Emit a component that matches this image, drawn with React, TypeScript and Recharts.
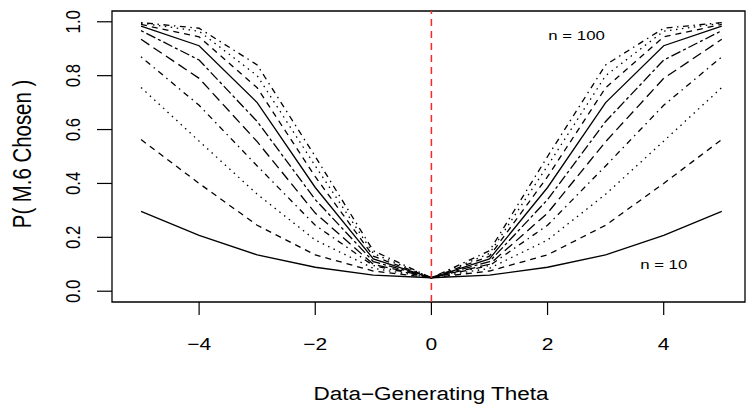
import { LineChart, Line, XAxis, YAxis, ReferenceLine, ReferenceArea, ReferenceDot } from "recharts";

// theta values on the x axis
const thetas = [-5, -4, -3, -2, -1, 0, 1, 2, 3, 4, 5];

// P(M.6 chosen) for each sample size
const n10 = [0.296, 0.207, 0.135, 0.089, 0.06, 0.05, 0.06, 0.089, 0.135, 0.207, 0.296];
const n20 = [0.563, 0.4, 0.245, 0.135, 0.075, 0.05, 0.075, 0.135, 0.245, 0.4, 0.563];
const n30 = [0.756, 0.557, 0.36, 0.19, 0.085, 0.05, 0.085, 0.19, 0.36, 0.557, 0.756];
const n40 = [0.87, 0.69, 0.465, 0.245, 0.095, 0.05, 0.095, 0.245, 0.465, 0.69, 0.87];
const n50 = [0.935, 0.79, 0.555, 0.29, 0.1, 0.05, 0.1, 0.29, 0.555, 0.79, 0.935];
const n60 = [0.967, 0.858, 0.63, 0.34, 0.11, 0.05, 0.11, 0.34, 0.63, 0.858, 0.967];
const n70 = [0.984, 0.911, 0.7, 0.385, 0.12, 0.05, 0.12, 0.385, 0.7, 0.911, 0.984];
const n80 = [0.99, 0.944, 0.755, 0.425, 0.13, 0.05, 0.13, 0.425, 0.755, 0.944, 0.99];
const n90 = [0.995, 0.965, 0.8, 0.465, 0.14, 0.05, 0.14, 0.465, 0.8, 0.965, 0.995];
const n100 = [0.997, 0.976, 0.84, 0.5, 0.15, 0.05, 0.15, 0.5, 0.84, 0.976, 0.997];

const series = [
  { key: "n10", values: n10 },
  { key: "n20", values: n20 },
  { key: "n30", values: n30 },
  { key: "n40", values: n40 },
  { key: "n50", values: n50 },
  { key: "n60", values: n60 },
  { key: "n70", values: n70 },
  { key: "n80", values: n80 },
  { key: "n90", values: n90 },
  { key: "n100", values: n100 },
];

const xTicks = [-4, -2, 0, 2, 4];
const yTicks = [0, 0.2, 0.4, 0.6, 0.8, 1.0];

// R lty 1..6 cycle
const dashes = [undefined, "6 5", "1.5 4.5", "1.5 4.5 6 4.5", "10 5", "3 3 10 3"];

const data = thetas.map((t, i) => {
  const row: Record<string, number> = { theta: t };
  series.forEach((s) => (row[s.key] = s.values[i]));
  return row;
});

const FONT = "'Liberation Sans', Arial, Helvetica, sans-serif";
const SY = 0.8; // the reference is squashed vertically

function HText({ x, y, size, children }: any) {
  return (
    <g transform={`translate(${x},${y}) scale(1,${SY})`}>
      <text x={0} y={0} textAnchor="middle" dominantBaseline="central" fontSize={size} fontFamily={FONT} fill="#000">
        {children}
      </text>
    </g>
  );
}

function VText({ x, y, size, children }: any) {
  return (
    <g transform={`translate(${x},${y}) rotate(-90) scale(${SY},1)`}>
      <text x={0} y={0} textAnchor="middle" dominantBaseline="central" fontSize={size} fontFamily={FONT} fill="#000">
        {children}
      </text>
    </g>
  );
}

const renderXTick = (props: any) => {
  const v = props.payload.value;
  const label = v < 0 ? "\u2212" + Math.abs(v) : String(v);
  return (
    <HText key={"x" + v} x={props.x} y={props.y + 29} size={21}>
      {label}
    </HText>
  );
};

const renderYTick = (props: any) => {
  const v = props.payload.value;
  return (
    <VText key={"y" + v} x={props.x - 24} y={props.y} size={21}>
      {Number(v).toFixed(1)}
    </VText>
  );
};

export default function App() {
  return (
    <div style={{ position: "absolute", left: 0, top: 0, background: "#fff" }}>
      <LineChart width={750} height={408} data={data} margin={{ top: 11, right: 5, left: 0, bottom: 0 }}>
        <XAxis
          dataKey="theta"
          type="number"
          domain={[-5.5, 5.4]}
          ticks={xTicks}
          allowDataOverflow
          axisLine={false}
          tickSize={13}
          tickMargin={0}
          tickLine={{ stroke: "#000", strokeWidth: 1.2 }}
          tick={renderXTick}
          height={106}
          label={{
            content: () => <HText x={431} y={394} size={22.5}>Data{"\u2212"}Generating Theta</HText>,
          }}
        />
        <YAxis
          type="number"
          domain={[-0.04, 1.04]}
          ticks={yTicks}
          allowDataOverflow
          axisLine={false}
          tickSize={15}
          tickMargin={0}
          tickLine={{ stroke: "#000", strokeWidth: 1.2 }}
          tick={renderYTick}
          width={112}
          label={{
            content: () => <VText x={22} y={154} size={25.5}>P( M.6 Chosen )</VText>,
          }}
        />
        <ReferenceArea x1={-5.5} x2={5.4} y1={-0.04} y2={1.04} fill="none" stroke="#000" strokeWidth={1.3} ifOverflow="visible" />
        {series.map((s, i) => (
          <Line
            key={s.key}
            dataKey={s.key}
            stroke="#000"
            strokeWidth={1.3}
            strokeDasharray={dashes[i % 6]}
            dot={false}
            isAnimationActive={false}
          />
        ))}
        <ReferenceLine x={0} stroke="#ff2626" strokeWidth={1.5} strokeDasharray="7 5" />
        <ReferenceDot x={2.5} y={0.95} r={0} shape={(p: any) => <HText x={p.cx} y={p.cy} size={16.8}>n = 100</HText>} />
        <ReferenceDot x={4} y={0.1} r={0} shape={(p: any) => <HText x={p.cx} y={p.cy} size={16.8}>n = 10</HText>} />
      </LineChart>
    </div>
  );
}
